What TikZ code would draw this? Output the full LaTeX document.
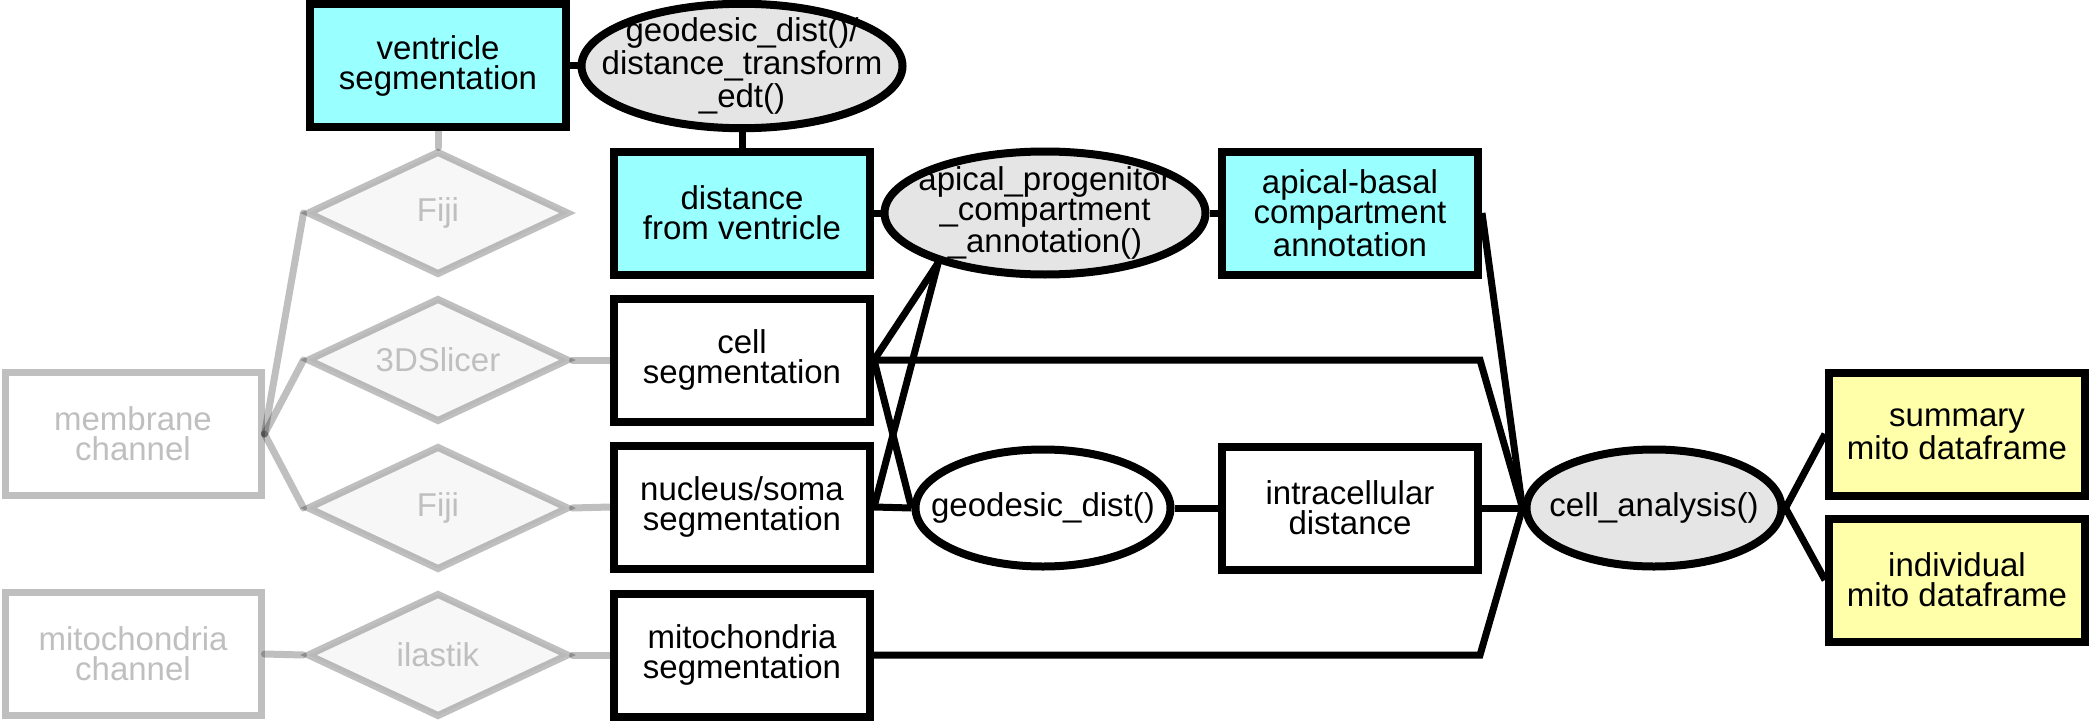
\documentclass[tikz,border=0pt]{standalone}
\usepackage{fontspec}
\setmainfont{Liberation Sans}
\usetikzlibrary{shapes.geometric}
\definecolor{cyan1}{RGB}{153,255,255}
\definecolor{yellow1}{RGB}{255,255,170}
\definecolor{gray1}{RGB}{229,229,229}
\definecolor{gray2}{RGB}{247,247,247}
\definecolor{gray3}{RGB}{191,191,191}
\tikzset{
  every node/.style={font=\fontsize{16.5}{15}\selectfont, align=center},
  databox/.style={draw, line width=4pt, rectangle, minimum width=128pt, minimum height=61.5pt, inner sep=2pt},
  rawbox/.style={databox, line width=3.5pt, draw opacity=0.25, text=gray3},
  funcnode/.style={draw, line width=4pt, ellipse, fill=gray1, inner xsep=-20pt, inner ysep=-2pt},
  bigfunc/.style={funcnode, minimum width=160.5pt, minimum height=61.5pt},
  smallfunc/.style={funcnode, minimum width=127.5pt, minimum height=58.5pt},
  toolnode/.style={diamond, aspect=2, draw, draw opacity=0.25, line width=3.5pt, fill=gray2, text=gray3, inner sep=0pt, minimum width=131pt, minimum height=62pt},
  link/.style={line width=3.5pt},
  fadelink/.style={line width=3.5pt, draw opacity=0.25, line cap=round}
}

\begin{document}
\begin{tikzpicture}[x=0.5pt, y=-0.5pt]
  \useasboundingbox (0,0) rectangle (2092,722);

  \node[rawbox] (membrane) at (133,434) {membrane\\channel};
  \node[rawbox] (mitochannel) at (133,654) {mitochondria\\channel};

  \node[toolnode] (fijiA) at (438,213) {Fiji};
  \node[toolnode] (slicer) at (438,360) {3DSlicer};
  \node[toolnode] (fijiB) at (438,508) {Fiji};
  \node[toolnode] (ilastik) at (438,655) {ilastik};

  \node[databox, fill=cyan1] (ventricle) at (438,66) {ventricle\\segmentation};
  \node[bigfunc] (edt) at (742,66) {geodesic\_dist()/\\distance\_transform\\\_edt()};
  \node[databox, fill=cyan1] (distvent) at (742,213) {distance\\from ventricle};
  \node[databox] (cellseg) at (742,360) {cell\\segmentation};
  \node[databox] (nucleus) at (742,507) {nucleus/soma\\segmentation};
  \node[databox] (mitoseg) at (742,655) {mitochondria\\segmentation};

  \node[bigfunc] (apical) at (1045,213) {apical\_progenitor\\\_compartment\\\_annotation()};
  \node[databox, fill=cyan1] (compartment) at (1350,213) {apical-basal\\compartment\\annotation};
  \node[smallfunc, fill=white] (geodist) at (1043,508) {geodesic\_dist()};
  \node[databox] (intradist) at (1350,508) {intracellular\\distance};

  \node[smallfunc] (analysis) at (1654,508) {cell\_analysis()};
  \node[databox, fill=yellow1] (summary) at (1957,434) {summary\\mito dataframe};
  \node[databox, fill=yellow1] (individual) at (1957,580) {individual\\mito dataframe};

  \draw[fadelink] (ventricle.south) -- (fijiA.north);
  \draw[fadelink] (membrane.east) -- (fijiA.west);
  \draw[fadelink] (membrane.east) -- (slicer.west);
  \draw[fadelink] (membrane.east) -- (fijiB.west);
  \draw[fadelink] (mitochannel.east) -- (ilastik.west);
  \draw[fadelink] (slicer.east) -- (cellseg.west);
  \draw[fadelink] (fijiB.east) -- (nucleus.west);
  \draw[fadelink] (ilastik.east) -- (mitoseg.west);

  \draw[link] (ventricle.east) -- (edt.west);
  \draw[link] (edt.south) -- (distvent.north);
  \draw[link] (distvent.east) -- (apical.west);
  \draw[link] (apical.east) -- (compartment.west);
  \draw[link] (cellseg.east) -- (apical.205);
  \draw[link] (nucleus.east) -- (apical.205);
  \draw[link] (cellseg.east) -- (geodist.west);
  \draw[link] (nucleus.east) -- (geodist.west);
  \draw[link] (geodist.east) -- (intradist.west);
  \draw[link] (cellseg.east) -- (1480,360) -- (analysis.west);
  \draw[link] (mitoseg.east) -- (1480,655) -- (analysis.west);
  \draw[link] (compartment.east) -- (analysis.west);
  \draw[link] (intradist.east) -- (analysis.west);
  \draw[link] (analysis.east) -- (summary.west);
  \draw[link] (analysis.east) -- (individual.west);
\end{tikzpicture}
\end{document}
